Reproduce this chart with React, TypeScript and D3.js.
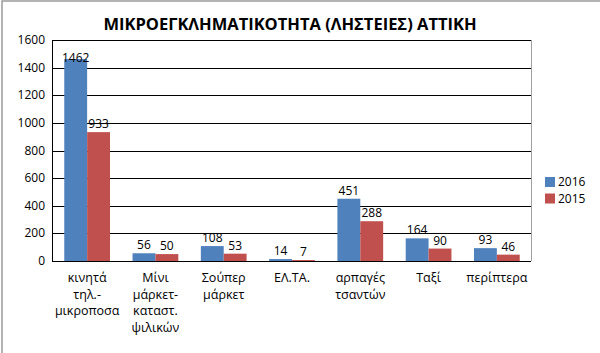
import React from "react";
import * as d3 from "d3";

const categories: string[][] = [
  ["κινητά", "τηλ.-", "μικροποσα"],
  ["Μίνι", "μάρκετ-", "καταστ.", "ψιλικών"],
  ["Σούπερ", "μάρκετ"],
  ["ΕΛ.ΤΑ."],
  ["αρπαγές", "τσαντών"],
  ["Ταξί"],
  ["περίπτερα"],
];
const series2016 = [1462, 56, 108, 14, 451, 164, 93];
const series2015 = [933, 50, 53, 7, 288, 90, 46];
const seriesNames = ["2016", "2015"];
const colors = ["#4F81BD", "#C0504D"];
const yTicks = [0, 200, 400, 600, 800, 1000, 1200, 1400, 1600];
const title = "ΜΙΚΡΟΕΓΚΛΗΜΑΤΙΚΟΤΗΤΑ (ΛΗΣΤΕΙΕΣ) ΑΤΤΙΚΗ";

export default function App() {
  const W = 600, H = 353;
  const left = 53, right = 531, top = 40, bottom = 261;
  const font = "'Open Sans', sans-serif";
  const x = d3.scaleBand<number>().domain(d3.range(categories.length)).range([left, right]).paddingInner(0.33).paddingOuter(0.165);
  const x1 = d3.scaleBand<number>().domain([0, 1]).range([0, x.bandwidth()]);
  const y = d3.scaleLinear().domain([0, 1600]).range([bottom, top]);
  const data = [series2016, series2015];
  return (
    <svg width={W} height={H} style={{ position: "absolute", left: 0, top: 0, background: "#fff" }}>
      <rect x={2} y={1} width={W + 10} height={H + 10} fill="#fff" stroke="#9a9a9a" strokeWidth={1.5} />
      <text x={290} y={30} textAnchor="middle" fontFamily={font} fontWeight="bold" fontSize={16.5} fill="#000">{title}</text>
      {yTicks.map((t) => (
        <g key={t}>
          {t > 0 && <line x1={left} x2={right} y1={Math.round(y(t)) + 0.5} y2={Math.round(y(t)) + 0.5} stroke="#000" strokeWidth={1} />}
          <text x={45} y={y(t) + 4} textAnchor="end" fontFamily={font} fontSize={12} fill="#000">{t}</text>
        </g>
      ))}
      <line x1={right + 0.5} x2={right + 0.5} y1={top} y2={bottom} stroke="#a0a0a0" strokeWidth={1} />
      {data.map((s, si) =>
        s.map((v, i) => {
          const bx = (x(i) as number) + (x1(si) as number);
          const bw = x1.bandwidth();
          const by = y(v);
          const ly = Math.max(by - 4, top + 22);
          return (
            <g key={`${si}-${i}`}>
              <rect x={bx} y={by} width={bw} height={bottom - by} fill={colors[si]} />
              <text x={bx + bw / 2} y={ly} textAnchor="middle" fontFamily={font} fontSize={12} fill="#000">{v}</text>
            </g>
          );
        })
      )}
      <line x1={left} x2={right} y1={bottom + 0.5} y2={bottom + 0.5} stroke="#000" strokeWidth={1} />
      <line x1={left - 0.5} x2={left - 0.5} y1={top} y2={bottom + 1} stroke="#000" strokeWidth={1} />
      {categories.map((lines, i) => (
        <text key={i} textAnchor="middle" fontFamily={font} fontSize={12.5} fill="#000">
          {lines.map((l, j) => (
            <tspan key={j} x={(x(i) as number) + x.bandwidth() / 2} y={282 + j * 16.5}>{l}</tspan>
          ))}
        </text>
      ))}
      {seriesNames.map((n, i) => (
        <g key={n}>
          <rect x={545} y={177 + i * 16.5} width={10} height={10} fill={colors[i]} />
          <text x={558} y={186 + i * 16.5} fontFamily={font} fontSize={12} fill="#000">{n}</text>
        </g>
      ))}
    </svg>
  );
}
